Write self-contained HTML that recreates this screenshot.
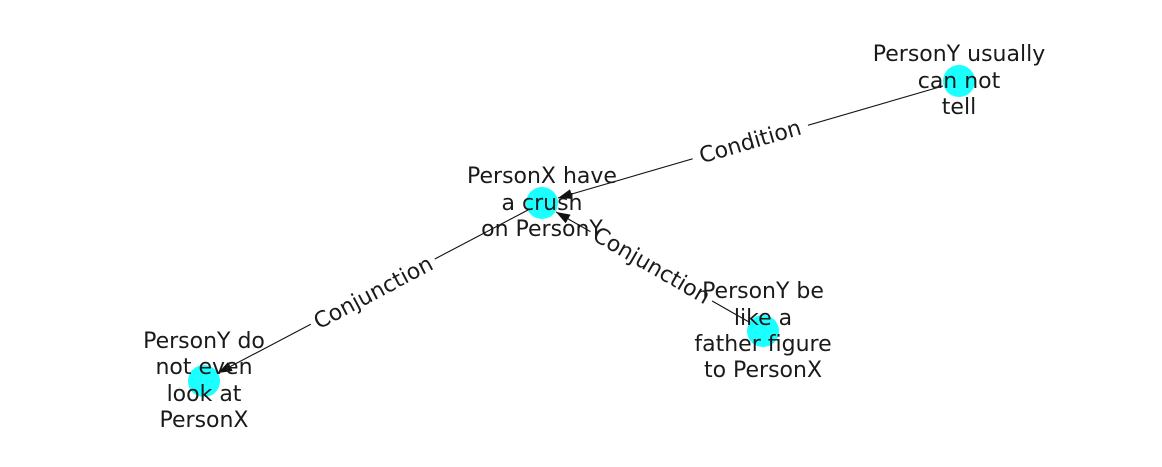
<!DOCTYPE html>
<html><head><meta charset="utf-8"><style>
html,body{margin:0;padding:0;background:#fff;}
svg text{font-family:"DejaVu Sans","Liberation Sans",sans-serif;font-size:22px;fill:#1a1a1a;}
</style></head><body>
<svg width="1162" height="462" viewBox="0 0 1162 462" xmlns="http://www.w3.org/2000/svg">
<defs>
<marker id="ah" markerWidth="14" markerHeight="10" refX="14" refY="5" orient="auto" markerUnits="userSpaceOnUse">
<path d="M0,0 L14,5 L0,10 Z" fill="#111"/>
</marker>
</defs>
<line x1="943" y1="86" x2="558" y2="198" stroke="#111" stroke-width="1.1" marker-end="url(#ah)"/>
<line x1="528" y1="210" x2="218" y2="373" stroke="#111" stroke-width="1.1" marker-end="url(#ah)"/>
<line x1="749" y1="322" x2="556" y2="212" stroke="#111" stroke-width="1.1" marker-end="url(#ah)"/>
<circle cx="542" cy="203" r="16" fill="#1affff"/>
<circle cx="959" cy="81" r="16" fill="#1affff"/>
<circle cx="204" cy="381" r="16" fill="#1affff"/>
<circle cx="763" cy="331" r="16" fill="#1affff"/>
<g transform="translate(750,141) rotate(-16.3)">
<rect x="-60" y="-14" width="120" height="28" fill="#fff"/>
<text x="0" y="8" text-anchor="middle">Condition</text></g>
<g transform="translate(373,292) rotate(-27.8)">
<rect x="-70" y="-14" width="140" height="28" fill="#fff"/>
<text x="0" y="8" text-anchor="middle">Conjunction</text></g>
<g transform="translate(652,265) rotate(30)">
<rect x="-70" y="-14" width="140" height="28" fill="#fff"/>
<text x="0" y="8" text-anchor="middle">Conjunction</text></g>
<text text-anchor="middle"><tspan x="542" y="183">PersonX have</tspan><tspan x="542" y="210">a crush</tspan><tspan x="542" y="236">on PersonY</tspan></text>
<text text-anchor="middle"><tspan x="959" y="61">PersonY usually</tspan><tspan x="959" y="88">can not</tspan><tspan x="959" y="114">tell</tspan></text>
<text text-anchor="middle"><tspan x="204" y="348">PersonY do</tspan><tspan x="204" y="374">not even</tspan><tspan x="204" y="401">look at</tspan><tspan x="204" y="427">PersonX</tspan></text>
<text text-anchor="middle"><tspan x="763" y="298">PersonY be</tspan><tspan x="763" y="325">like a</tspan><tspan x="763" y="351">father figure</tspan><tspan x="763" y="377">to PersonX</tspan></text>
</svg>
</body></html>
